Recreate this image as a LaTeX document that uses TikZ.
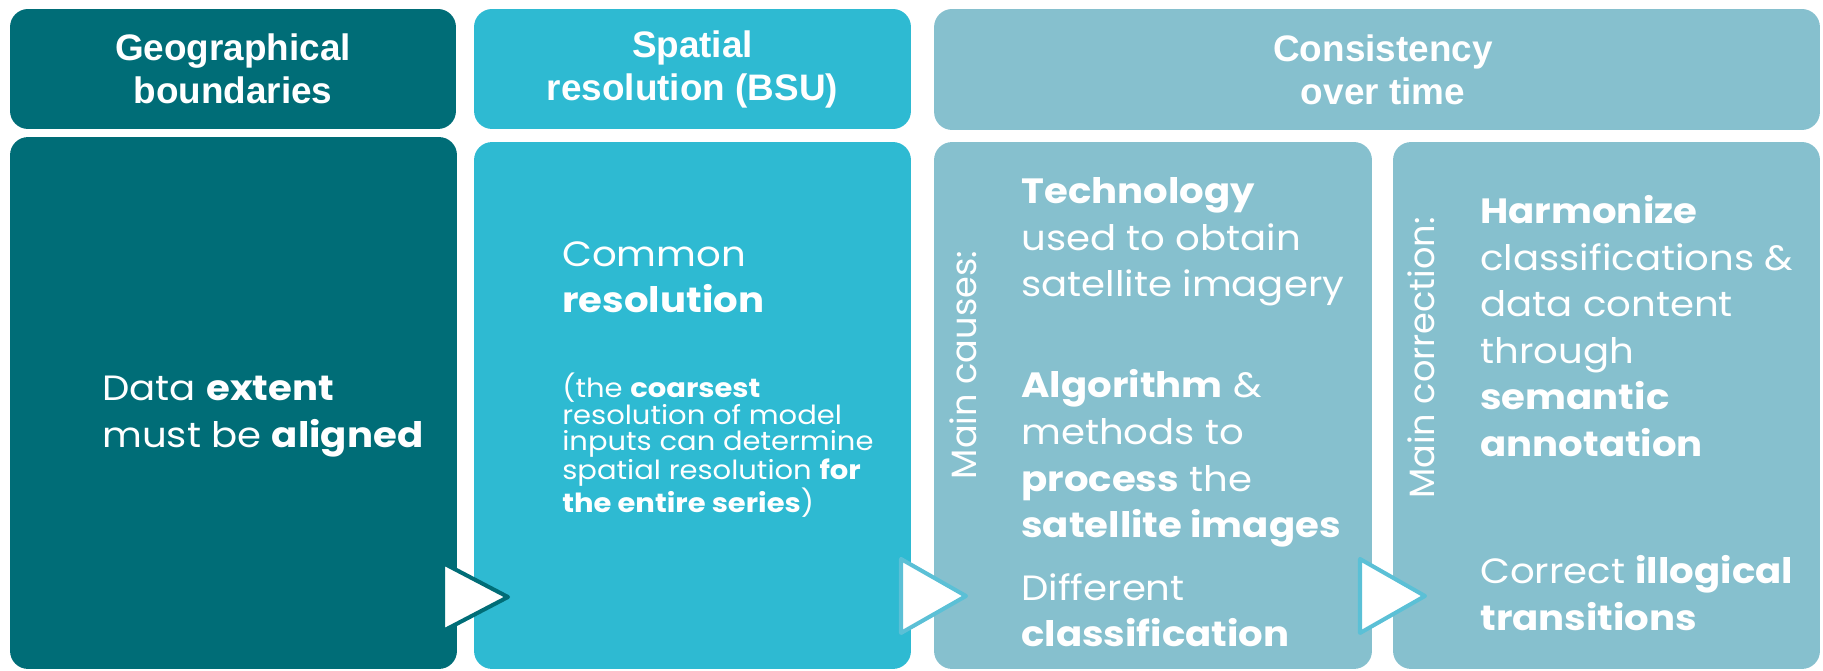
\documentclass[tikz,border=0pt]{standalone}
\usepackage{fontspec}
\newfontfamily\headfont{Liberation Sans}
\newfontfamily\bodyfont[FakeStretch=1.1]{Poppins}
\newfontfamily\sidefont{Poppins}
\usetikzlibrary{positioning}
\definecolor{tealdark}{RGB}{0,109,119}
\definecolor{tealmid}{RGB}{46,186,210}
\definecolor{teallight}{RGB}{134,192,206}
\definecolor{tealedge}{RGB}{91,192,214}
\tikzset{
  panel/.style={rectangle, rounded corners=0.36cm, inner sep=0pt},
  headtext/.style={text=white, align=center, font=\headfont\bfseries\fontsize{21}{24.5}\selectfont},
  bodytext/.style={text=white, align=left, inner sep=0pt, anchor=north west,
    font=\bodyfont\fontsize{20}{26.5}\selectfont},
  smalltext/.style={bodytext, font=\bodyfont\fontsize{15}{14.9}\selectfont},
  sidetext/.style={text=white, rotate=90, inner sep=0pt, font=\sidefont\fontsize{20}{24}\selectfont},
  pointer/.style={fill=white, line width=2.3pt, line join=round}
}
\begin{document}
\begin{tikzpicture}[x=0.02cm, y=-0.02cm]
  \useasboundingbox (0,0) rectangle (1823,671);
  % header row
  \node[panel, fill=tealdark, minimum width=8.92cm, minimum height=2.40cm] (geohead) at (233,69) {};
  \node[panel, fill=tealmid, minimum width=8.74cm, minimum height=2.40cm] (spathead) at (692.5,69) {};
  \node[panel, fill=teallight, minimum width=17.72cm, minimum height=2.42cm] (conshead) at (1377,69.5) {};
  \node[headtext] (geolabel) at (geohead) {Geographical\\boundaries};
  \node[headtext] (spatlabel) at (spathead) {Spatial\\resolution (BSU)};
  \node[headtext] (conslabel) at (1383,69.5) {Consistency\\over time};
  % body row
  \node[panel, fill=tealdark, minimum width=8.94cm, minimum height=10.64cm] (geobody) at (233.5,403) {};
  \node[panel, fill=tealmid, minimum width=8.74cm, minimum height=10.54cm] (spatbody) at (692.5,405.5) {};
  \node[panel, fill=teallight, minimum width=8.76cm, minimum height=10.54cm] (causebody) at (1153,405.5) {};
  \node[panel, fill=teallight, minimum width=8.54cm, minimum height=10.54cm] (corrbody) at (1606.5,405.5) {};
  % texts
  \node[bodytext] (geotext) at (102,376) {Data \textbf{extent}\\must be \textbf{aligned}};
  \node[bodytext] (spattext) at (562,241) {Common\\\textbf{resolution}};
  \node[smalltext] (spatnote) at (562,373) {(the \textbf{coarsest}\\resolution of model\\inputs can determine\\spatial resolution \textbf{for}\\\textbf{the entire series})};
  \node[sidetext] (causeside) at (963,365) {Main causes:};
  \node[bodytext] (causetext) at (1021,177.5) {\textbf{Technology}\\used to obtain\\satellite imagery\\[31pt]\textbf{Algorithm} \&\\methods to\\\textbf{process} the\\\textbf{satellite images}\\[9pt]Different\\\textbf{classification}};
  \node[sidetext] (corrside) at (1421,358) {Main correction:};
  \node[bodytext] (corrtext) at (1480,195) {\textbf{Harmonize}\\classifications \&\\data content\\through\\\textbf{semantic}\\\textbf{annotation}\\[46pt]Correct \textbf{illogical}\\\textbf{transitions}};
  % pointers between the panels
  \draw[pointer, draw=tealdark] (443,563) -- ++(65,34) -- ++(-65,34) -- cycle;
  \foreach \x in {901, 1360}
    \draw[pointer, draw=tealedge] (\x,559) -- ++(65,37) -- ++(-65,37) -- cycle;
\end{tikzpicture}
\end{document}
